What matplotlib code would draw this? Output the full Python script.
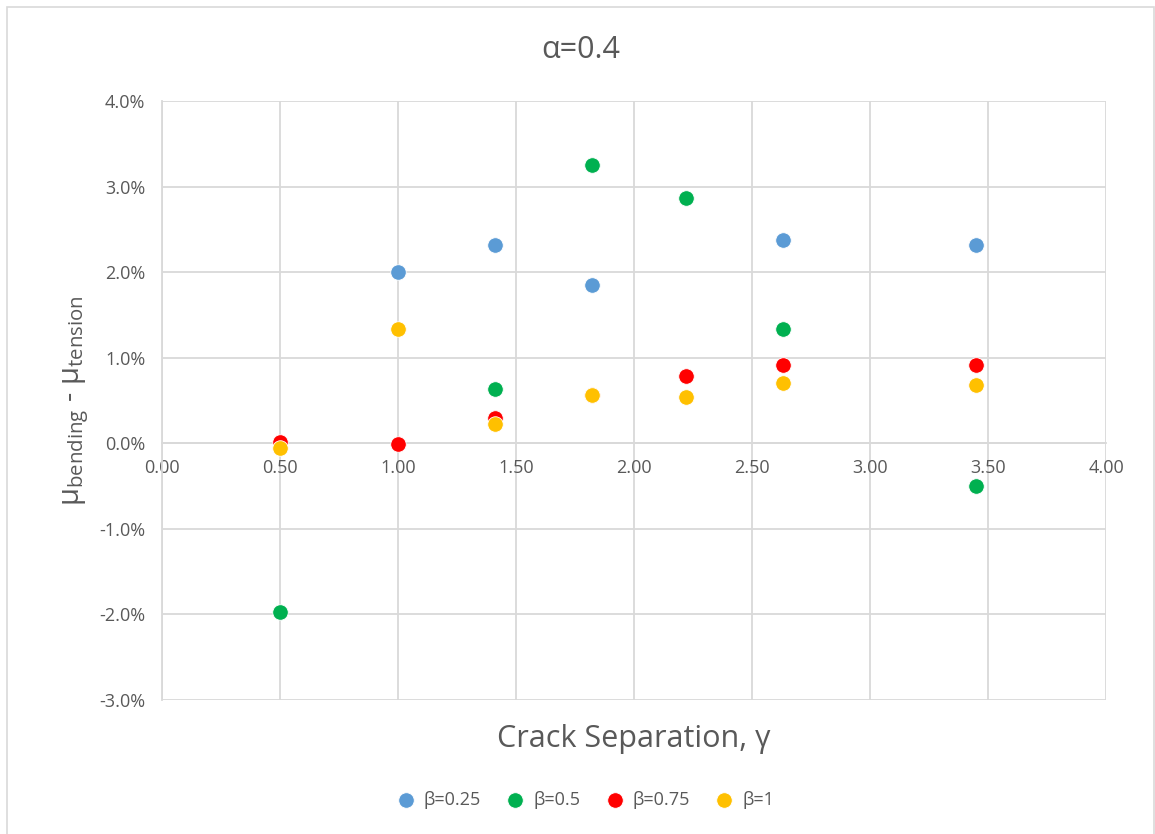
import matplotlib
matplotlib.use("Agg")
import matplotlib.pyplot as plt
from matplotlib.ticker import PercentFormatter, MultipleLocator
from matplotlib.patches import Rectangle

plt.rcParams['font.family'] = ['Open Sans', 'DejaVu Sans']
plt.rcParams['mathtext.fontset'] = 'custom'
plt.rcParams['mathtext.rm'] = 'Open Sans'
plt.rcParams['mathtext.it'] = 'Open Sans'
plt.rcParams['axes.unicode_minus'] = False

# Crack separation (gamma) and friction difference (%) per beta
gamma_025 = [1.00, 1.41, 1.82, 2.63, 3.45]
diff_025 = [2.00, 2.32, 1.85, 2.38, 2.32]

gamma_050 = [0.50, 1.41, 1.82, 2.22, 2.63, 3.45]
diff_050 = [-1.97, 0.64, 3.25, 2.87, 1.34, -0.50]

gamma_075 = [0.50, 1.00, 1.41, 1.82, 2.22, 2.63, 3.45]
diff_075 = [0.01, -0.01, 0.29, 0.56, 0.79, 0.91, 0.92]

gamma_100 = [0.50, 1.00, 1.41, 1.82, 2.22, 2.63, 3.45]
diff_100 = [-0.06, 1.33, 0.23, 0.56, 0.54, 0.71, 0.68]

series_labels = ['β=0.25', 'β=0.5', 'β=0.75', 'β=1']
series_colors = ['#5B9BD5', '#00B050', '#FF0000', '#FFC000']

TEXT = '#595959'
GRID = '#D9D9D9'

fig = plt.figure(figsize=(11.55, 8.34), dpi=100)
ax = fig.add_axes([0.1403, 0.1607, 0.8173, 0.7182])

data = [(gamma_025, diff_025), (gamma_050, diff_050),
        (gamma_075, diff_075), (gamma_100, diff_100)]
for (gx, gy), lab, col in zip(data, series_labels, series_colors):
    ax.scatter(gx, gy, s=125, color=col, edgecolors='white', linewidths=0.6,
               label=lab, zorder=3)

ax.set_xlim(0, 4)
ax.set_ylim(-3, 4)
ax.xaxis.set_major_locator(MultipleLocator(0.5))
ax.yaxis.set_major_locator(MultipleLocator(1))
ax.xaxis.set_major_formatter(lambda v, p: f'{v:.2f}')
ax.yaxis.set_major_formatter(PercentFormatter(xmax=100, decimals=1))

ax.grid(True, color=GRID, linewidth=1.3, zorder=0)
ax.set_axisbelow(True)
for name in ['top', 'right']:
    ax.spines[name].set_visible(False)
ax.spines['left'].set_color(GRID)
ax.spines['left'].set_linewidth(1.3)
ax.spines['bottom'].set_position(('data', 0))
ax.spines['bottom'].set_color(GRID)
ax.spines['bottom'].set_linewidth(1.3)
ax.tick_params(axis='both', length=0, labelsize=13, labelcolor=TEXT)
ax.tick_params(axis='x', pad=11)
ax.tick_params(axis='y', pad=12)

# Chart title, centred on the whole chart area
fig.text(0.503, 0.94, 'α=0.4', fontsize=22, color=TEXT,
         ha='center', va='center')
ax.set_xlabel('Crack Separation, γ', fontsize=22, color=TEXT, labelpad=0)
ax.xaxis.set_label_coords(0.5, -0.04)
ax.set_ylabel(r'$\mathrm{μ_{bending}}$ - $\mathrm{μ_{tension}}$',
              fontsize=21, color=TEXT, labelpad=6)

leg = fig.legend(loc='center', bbox_to_anchor=(0.503, 0.041), ncol=4,
                 frameon=False, fontsize=13, handletextpad=0.0,
                 columnspacing=0.9, markerscale=1.0)
for t in leg.get_texts():
    t.set_color(TEXT)

fig.patches.append(Rectangle((7 / 1155, -0.01), 1147 / 1155, 1 - 7 / 834 + 0.01,
                             transform=fig.transFigure, fill=False,
                             edgecolor=GRID, linewidth=1.2))

fig.savefig('out.png', dpi=100, facecolor='white')
